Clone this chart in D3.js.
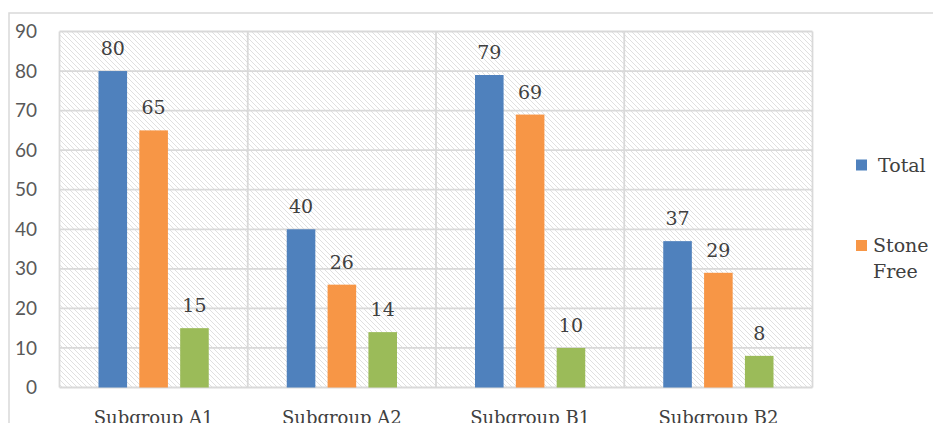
<!DOCTYPE html>
<html>
<head>
<meta charset="utf-8">
<script src="https://cdn.jsdelivr.net/npm/d3@7"></script>
<style>
  html, body { margin: 0; padding: 0; background: #fff; overflow: hidden; }
  svg { display: block; }
</style>
</head>
<body>
<svg id="chart" width="933" height="423"></svg>
<script>
const categories = ["Subgroup A1", "Subgroup A2", "Subgroup B1", "Subgroup B2"];
const seriesNames = ["Total", "Stone Free", "Remaining"];
const totalValues = [80, 40, 79, 37];
const stoneFreeValues = [65, 26, 69, 29];
const remainingValues = [15, 14, 10, 8];
const yTicks = [0, 10, 20, 30, 40, 50, 60, 70, 80, 90];
const legendNames = ["Total", ["Stone", "Free"]];

const colors = ["#4F81BD", "#F79646", "#9BBB59"];
const seriesValues = [totalValues, stoneFreeValues, remainingValues];

const svg = d3.select("#chart");
const plot = { left: 59.5, right: 812.5, top: 31.5, bottom: 387.5 };

// hatch pattern
const defs = svg.append("defs");
const pat = defs.append("pattern")
  .attr("id", "hatch").attr("patternUnits", "userSpaceOnUse")
  .attr("width", 5).attr("height", 5);
pat.append("rect").attr("width", 5).attr("height", 5).attr("fill", "#fff");
pat.append("path").attr("d", "M-1,-1 L6,6 M-1,4 L1,6 M4,-1 L6,1")
  .attr("stroke", "#e0e0e0").attr("stroke-width", 1);

// outer chart border
svg.append("path")
  .attr("d", "M9,423 L9,13 L933,13")
  .attr("fill", "none").attr("stroke", "#d9d9d9").attr("stroke-width", 1.5);

const x0 = d3.scaleBand().domain(categories).range([plot.left, plot.right]).paddingInner(0).paddingOuter(0);
const x1 = d3.scaleBand().domain(d3.range(seriesNames.length))
  .range([39, x0.bandwidth() - 39]).paddingInner(0.3).paddingOuter(0);
const y = d3.scaleLinear().domain([0, 90]).range([plot.bottom, plot.top]);

// background hatch
svg.append("rect")
  .attr("x", plot.left).attr("y", plot.top)
  .attr("width", plot.right - plot.left).attr("height", plot.bottom - plot.top)
  .attr("fill", "url(#hatch)");

// horizontal gridlines
svg.append("g").selectAll("line").data(yTicks).join("line")
  .attr("x1", plot.left).attr("x2", plot.right)
  .attr("y1", d => y(d)).attr("y2", d => y(d))
  .attr("stroke", "#d9d9d9").attr("stroke-width", 1.8);

// vertical gridlines at category boundaries
const bounds = categories.map(c => x0(c)).concat([plot.right]);
svg.append("g").selectAll("line").data(bounds).join("line")
  .attr("x1", d => d).attr("x2", d => d)
  .attr("y1", plot.top).attr("y2", plot.bottom)
  .attr("stroke", "#d9d9d9").attr("stroke-width", 1.8);

// y axis labels
const yAxis = d3.axisLeft(y).tickValues(yTicks).tickSize(0).tickPadding(0);
const yg = svg.append("g").attr("transform", "translate(37,0)").call(yAxis);
yg.select(".domain").remove();
yg.selectAll("text")
  .attr("font-family", "Lato, 'Open Sans', sans-serif")
  .attr("font-size", 19).attr("fill", "#595959");

// bars
const groups = svg.append("g").selectAll("g").data(categories).join("g")
  .attr("transform", c => `translate(${x0(c)},0)`);
groups.each(function(c, ci) {
  const g = d3.select(this);
  seriesValues.forEach((vals, si) => {
    const v = vals[ci];
    g.append("rect")
      .attr("x", x1(si)).attr("width", x1.bandwidth())
      .attr("y", y(v)).attr("height", y(0) - y(v))
      .attr("fill", colors[si]);
    g.append("text")
      .attr("x", x1(si) + x1.bandwidth() / 2)
      .attr("y", y(v) - 16)
      .attr("text-anchor", "middle")
      .attr("font-family", "'DejaVu Serif', serif")
      .attr("font-size", 19).attr("fill", "#404040")
      .text(v);
  });
});

// x axis labels
svg.append("g").selectAll("text").data(categories).join("text")
  .attr("x", c => x0(c) + x0.bandwidth() / 2)
  .attr("y", 424)
  .attr("text-anchor", "middle")
  .attr("font-family", "'DejaVu Serif', serif")
  .attr("font-size", 18).attr("fill", "#404040")
  .text(c => c);

// legend
const legendY = [159.5, 240];
legendNames.forEach((name, i) => {
  svg.append("rect").attr("x", 856).attr("y", legendY[i]).attr("width", 11).attr("height", 11)
    .attr("fill", colors[i]);
  const lines = Array.isArray(name) ? name : [name];
  const t = svg.append("text")
    .attr("font-family", "'DejaVu Serif', serif")
    .attr("font-size", 19).attr("fill", "#404040");
  lines.forEach((ln, li) => {
    t.append("tspan").attr("x", i === 0 ? 878 : 873)
      .attr("y", legendY[i] + 12 + li * 25.5).text(ln);
  });
});
</script>
</body>
</html>
